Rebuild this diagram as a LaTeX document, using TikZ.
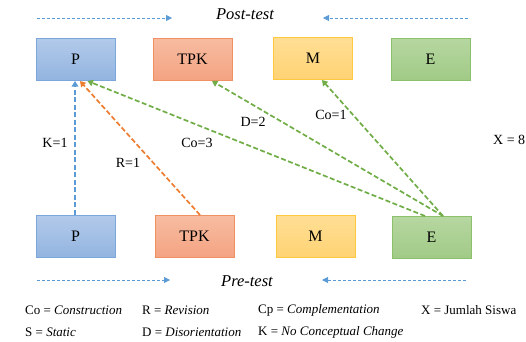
\documentclass[tikz,border=0pt]{standalone}
\usepackage{fontspec}
\setmainfont{Liberation Serif}
\usetikzlibrary{arrows.meta,calc}
\definecolor{lblue}{HTML}{5B9BD5}
\definecolor{lorange}{HTML}{ED7D31}
\definecolor{lgreen}{HTML}{70AD47}
\definecolor{bblueT}{HTML}{B2CAEA}
\definecolor{bblueB}{HTML}{93B4E0}
\definecolor{bblueD}{HTML}{7BA7DC}
\definecolor{borT}{HTML}{F7BCA1}
\definecolor{borB}{HTML}{F4A382}
\definecolor{borD}{HTML}{EF9163}
\definecolor{byeT}{HTML}{FFDE95}
\definecolor{byeB}{HTML}{FFD374}
\definecolor{byeD}{HTML}{FFC93F}
\definecolor{bgrT}{HTML}{B6D7A1}
\definecolor{bgrB}{HTML}{A1CA86}
\definecolor{bgrD}{HTML}{8DC06B}
\tikzset{
  x=1pt,y=1pt,
  box/.style={minimum width=79pt,minimum height=42pt,inner sep=0pt,line width=1pt,
    font=\fontsize{16}{18}\selectfont},
  pbox/.style={box,draw=bblueD,top color=bblueT,bottom color=bblueB},
  tbox/.style={box,draw=borD,top color=borT,bottom color=borB},
  mbox/.style={box,draw=byeD,top color=byeT,bottom color=byeB},
  ebox/.style={box,draw=bgrD,top color=bgrT,bottom color=bgrB},
  conn/.style={line width=1.7pt,dash pattern=on 5pt off 2.5pt,
    -{Triangle[width=6.5pt,length=5.5pt]}},
  hdr/.style={draw=lblue,line width=0.8pt,dash pattern=on 3pt off 2pt,
    -{Triangle[width=6pt,length=6pt]}},
  lab/.style={inner sep=0pt,font=\fontsize{14}{16}\selectfont},
  ttl/.style={inner sep=0pt,font=\fontsize{16.5}{18}\selectfont\itshape},
  leg/.style={inner sep=0pt,anchor=west,font=\fontsize{13}{15}\selectfont},
}
\begin{document}
\begin{tikzpicture}
\useasboundingbox (0,0) rectangle (526,341);
% boxes
\node[pbox] (Pt) at (75.5,282) {P};
\node[tbox] (Tt) at (192.5,282) {TPK};
\node[mbox] (Mt) at (313,283) {M};
\node[ebox] (Et) at (430.5,282) {E};
\node[pbox] (Pb) at (75.5,105) {P};
\node[tbox] (Tb) at (194.5,104.5) {TPK};
\node[mbox] (Mb) at (315.5,105) {M};
\node[ebox] (Eb) at (431.5,103.5) {E};
% connectors
\draw[conn,lblue] ($(Pb.north)+(-0.5,0)$) -- ($(Pt.south)+(-0.5,-0.5)$);
\draw[conn,lorange] ($(Tb.north)+(5.5,0)$) -- ($(Pt.south)+(4.5,-0.5)$);
\draw[conn,lgreen] ($(Eb.north)+(-6.5,0)$) -- ($(Pt.south)+(12,-0.5)$);
\draw[conn,lgreen] ($(Eb.north)+(11.5,0)$) -- ($(Tt.south)+(19.5,-0.5)$);
\draw[conn,lgreen] ($(Eb.north)+(11.5,0)$) -- ($(Mt.south)+(9,-0.5)$);
% labels
\node[lab] (lK) at (55,198) {K=1};
\node[lab] (lR) at (128,178) {R=1};
\node[lab] (lCo3) at (197,198) {Co=3};
\node[lab] (lD) at (253,219) {D=2};
\node[lab] (lCo1) at (331,226) {Co=1};
\node[lab,anchor=west] (lX) at (493,201) {X = 8};
% titles
\node[ttl] (post) at (245,327) {Post-test};
\node[ttl] (pre) at (247,60) {Pre-test};
\coordinate (a1) at (37,323); \coordinate (a2) at (172,323);
\coordinate (a3) at (468,323); \coordinate (a4) at (323,323);
\coordinate (b1) at (37,61); \coordinate (b2) at (170,61);
\coordinate (b3) at (466,61); \coordinate (b4) at (322,61);
\draw[hdr] (a1) -- (a2);
\draw[hdr] (a3) -- (a4);
\draw[hdr] (b1) -- (b2);
\draw[hdr] (b3) -- (b4);
% legend
\node[leg] (g1) at (25,31) {Co = \textit{Construction}};
\node[leg] (g2) at (142,31) {R = \textit{Revision}};
\node[leg] (g3) at (258,31) {Cp = \textit{Complementation}};
\node[leg] (g4) at (421,31) {X = Jumlah Siswa};
\node[leg] (g5) at (25,9) {S = \textit{Static}};
\node[leg] (g6) at (142,9) {D = \textit{Disorientation}};
\node[leg] (g7) at (258,9) {K = \textit{No Conceptual Change}};
\end{tikzpicture}
\end{document}
